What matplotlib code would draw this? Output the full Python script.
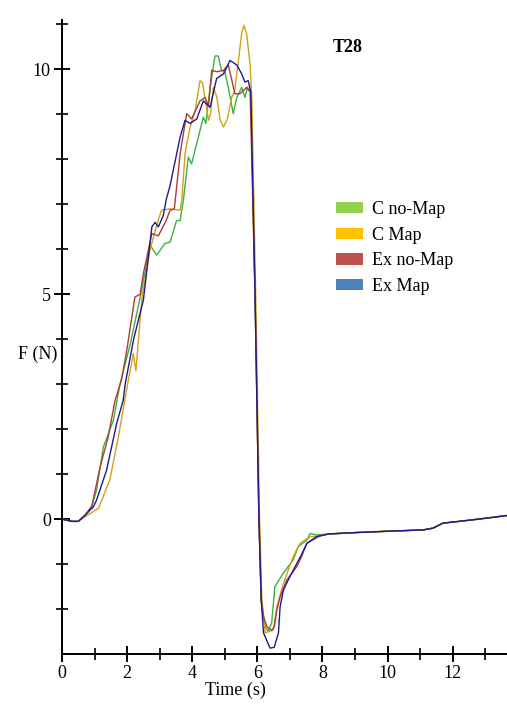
import numpy as np
import matplotlib.pyplot as plt
from matplotlib.patches import Patch

plt.rcParams['font.family'] = ['Liberation Serif', 'DejaVu Serif']

# force traces (time in s, force in N)
green_t = [0, 0.3, 0.5, 0.7, 0.91, 1.06, 1.27, 1.58, 1.78, 2.1, 2.45, 2.7, 2.91, 3.16, 3.32,
           3.52, 3.63, 3.73, 3.88, 3.98, 4.24, 4.34, 4.42, 4.55, 4.7, 4.8, 4.9, 5.0, 5.11, 5.26,
           5.37, 5.52, 5.62, 5.7, 5.8, 5.93, 6.05, 6.12, 6.24, 6.33, 6.44, 6.54, 6.8, 7.1, 7.26,
           7.52, 7.62, 7.8]
green_f = [0, -0.05, -0.05, 0.08, 0.27, 0.64, 1.6, 2.2, 3.0, 3.9, 5.1, 6.1, 5.87, 6.13, 6.16,
           6.64, 6.64, 7.1, 8.05, 7.9, 8.64, 8.94, 8.8, 9.6, 10.3, 10.3, 9.98, 9.95, 9.6, 9.02,
           9.38, 9.6, 9.38, 9.6, 9.5, 5.0, 0.0, -1.8, -2.39, -2.5, -2.31, -1.5, -1.2, -0.91, -0.61,
           -0.47, -0.32, -0.35]

orange_t = [0, 0.3, 0.5, 0.7, 1.12, 1.47, 1.75, 2.04, 2.19, 2.27, 2.35, 2.45, 2.7, 2.95, 3.06,
            3.32, 3.63, 3.68, 3.78, 3.93, 4.09, 4.24, 4.32, 4.5, 4.56, 4.65, 4.75, 4.86, 4.96,
            5.08, 5.21, 5.3, 5.42, 5.52, 5.59, 5.67, 5.78, 5.83, 5.95, 6.07, 6.14, 6.24, 6.49,
            6.6, 6.8, 7.1, 7.31, 7.6]
orange_f = [0, -0.05, -0.05, 0.05, 0.24, 0.87, 1.9, 3.1, 3.68, 3.3, 4.0, 4.87, 5.98, 6.64, 6.87,
            6.9, 6.87, 7.1, 8.13, 8.7, 9.08, 9.75, 9.7, 8.87, 9.0, 9.6, 9.4, 8.87, 8.72,
            8.9, 9.38, 9.5, 10.2, 10.8, 10.98, 10.8, 10.1, 9.38, 5.0, 0.0, -1.8, -2.53, -2.47,
            -1.95, -1.43, -0.84, -0.54, -0.4]

red_t = [0, 0.3, 0.5, 0.7, 0.92, 1.17, 1.41, 1.63, 1.83, 2.0, 2.24, 2.4, 2.5, 2.76, 2.96, 3.2,
         3.32, 3.45, 3.63, 3.83, 3.98, 4.24, 4.39, 4.5, 4.6, 4.75, 4.96, 5.11, 5.31, 5.47, 5.67,
         5.78, 5.93, 6.05, 6.12, 6.19, 6.3, 6.44, 6.52, 6.6, 6.7, 6.9, 7.21, 7.35, 7.52, 7.9]
red_f = [0, -0.05, -0.05, 0.08, 0.3, 1.16, 1.8, 2.64, 3.1, 3.8, 4.94, 5.0, 5.46, 6.35, 6.3, 6.64,
         6.87, 6.9, 8.13, 9.02, 8.9, 9.3, 9.38, 9.2, 9.98, 9.95, 9.98, 10.1, 9.46, 9.46, 9.6,
         9.5, 5.0, 0.0, -1.8, -2.17, -2.4, -2.47, -2.4, -2.02, -1.73, -1.36, -1.06, -0.85, -0.54,
         -0.38]

blue_t = [0, 0.3, 0.5, 0.7, 0.96, 1.06, 1.37, 1.68, 1.88, 1.94, 2.2, 2.5, 2.76, 2.86, 2.96,
          3.11, 3.2, 3.32, 3.63, 3.78, 3.93, 4.14, 4.34, 4.55, 4.75, 4.96, 5.16, 5.37, 5.52,
          5.62, 5.72, 5.8, 5.93, 6.05, 6.12, 6.19, 6.39, 6.52, 6.65, 6.7, 6.8, 7.0, 7.16, 7.35,
          7.52, 7.82]
blue_f = [0, -0.05, -0.05, 0.08, 0.27, 0.42, 1.09, 2.13, 2.64, 3.0, 4.0, 4.87, 6.5, 6.6, 6.5,
          6.75, 7.1, 7.42, 8.5, 8.87, 8.8, 8.9, 9.3, 9.16, 9.8, 9.9, 10.2, 10.1, 9.9,
          9.72, 9.75, 9.5, 5.0, 0.0, -1.8, -2.53, -2.87, -2.85, -2.53, -1.95, -1.58, -1.28,
          -1.06, -0.8, -0.54, -0.39]

# shared slow recovery after ~8 s
tail_t = [8.2, 9.0, 10.0, 11.1, 11.4, 11.7, 12.2, 12.8, 13.35, 13.67]
tail_f = [-0.33, -0.3, -0.27, -0.24, -0.2, -0.09, -0.05, 0.0, 0.05, 0.08]

labels = ['C no-Map', 'C Map', 'Ex no-Map', 'Ex Map']
line_colors = ['#3cb043', '#d4a017', '#b03a3a', '#1c1c8c']
patch_colors = ['#92d050', '#ffc000', '#c0504d', '#4f81bd']

fig = plt.figure(figsize=(5.07, 7.07), dpi=100)
ax = fig.add_axes([62 / 507, 1 - 654 / 707, 1 - 62 / 507, (654 - 20) / 707])

series = [(green_t, green_f), (orange_t, orange_f), (red_t, red_f), (blue_t, blue_f)]
for (t, f), c in zip(series, line_colors):
    ax.plot(t + tail_t, f + tail_f, color=c, lw=1.0)

ax.set_xlim(0, 13.67)
ax.set_ylim(-3, 11.1)

for s in ['top', 'right']:
    ax.spines[s].set_visible(False)
for s in ['left', 'bottom']:
    ax.spines[s].set_linewidth(1.4)

ax.set_xticks([0, 2, 4, 6, 8, 10, 12])
ax.set_xticks(np.arange(1, 14, 2), minor=True)
ax.set_yticks([0, 5, 10])
ax.set_yticks([-2, -1, 1, 2, 3, 4, 6, 7, 8, 9, 11], minor=True)
ax.tick_params(which='major', direction='inout', length=12, width=1.4, labelsize=13, pad=2)
ax.tick_params(which='minor', direction='inout', length=8, width=1.2)

fig.text(18 / 507, 1 - 354 / 707, 'F (N)', fontsize=13, va='center', ha='left')
fig.text(235 / 507, 1 - 690 / 707, 'Time (s)', fontsize=13, va='center', ha='center')
fig.text(348 / 507, 1 - 48 / 707, 'T28', fontsize=13, fontweight='bold', va='center', ha='center')

handles = [Patch(facecolor=c, edgecolor='none') for c in patch_colors]
fig.legend(handles, labels, loc='upper left', bbox_to_anchor=(336 / 507, 1 - 201 / 707),
           frameon=False, fontsize=13, handlelength=1.5, handleheight=0.6,
           handletextpad=0.5, labelspacing=0.48, borderaxespad=0, borderpad=0)

fig.savefig('out.png', dpi=100)
